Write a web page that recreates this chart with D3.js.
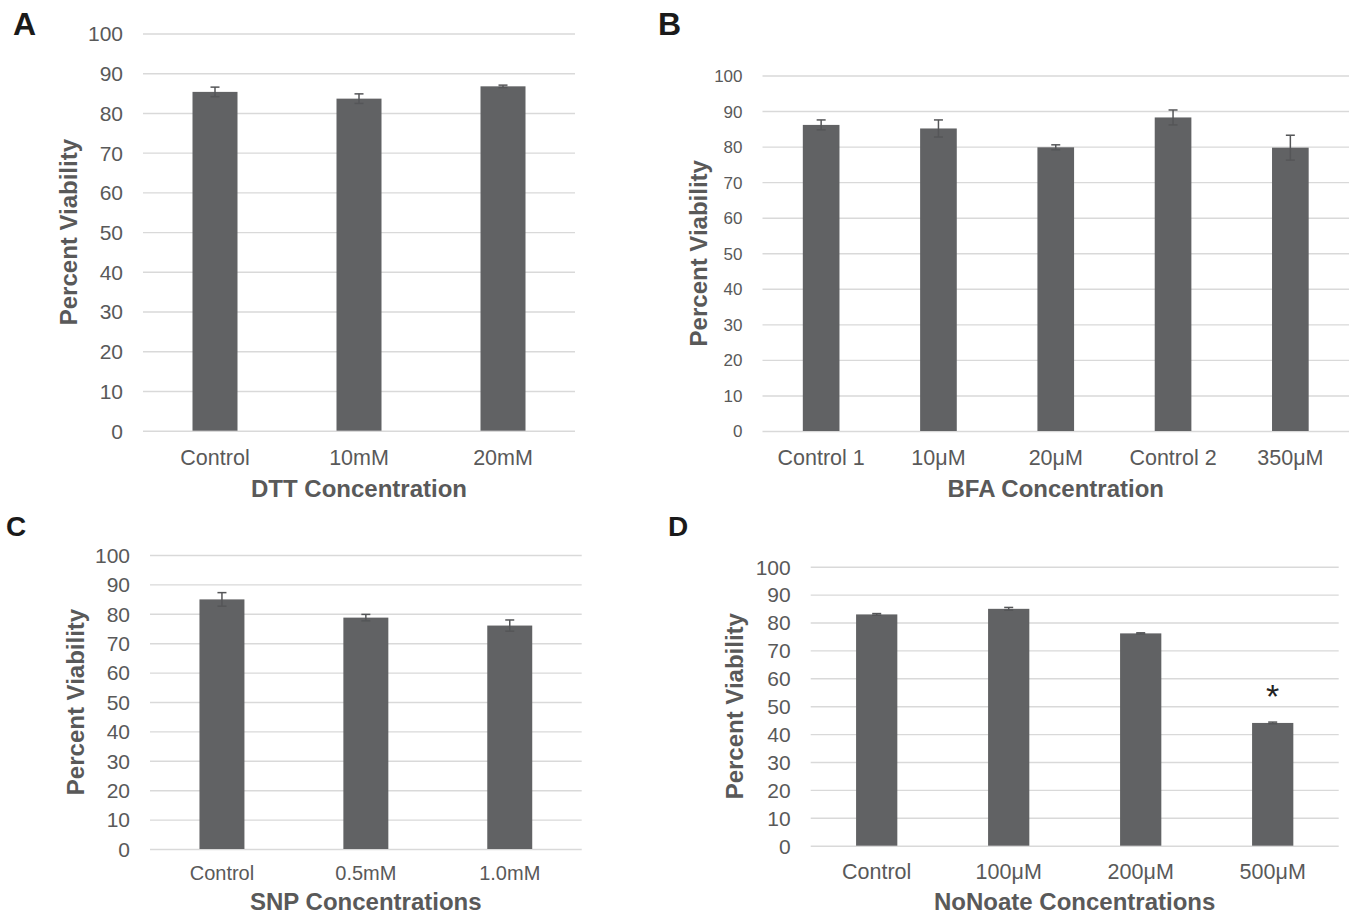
<!DOCTYPE html>
<html>
<head>
<meta charset="utf-8">
<script src="https://cdn.jsdelivr.net/npm/d3@7"></script>
<style>
  html, body { margin: 0; padding: 0; background: #fff; }
  svg { display: block; font-family: "Liberation Sans", Arial, sans-serif; }
</style>
</head>
<body>
<svg id="chart" width="1355" height="916"></svg>
<script>
// ---------- DATA ----------
const yTicks = [0, 10, 20, 30, 40, 50, 60, 70, 80, 90, 100];

const dttCategories = ["Control", "10mM", "20mM"];
const dttValues = [85.3, 83.6, 86.7];
const dttErrors = [1.2, 1.2, 0.3];

const bfaCategories = ["Control 1", "10μM", "20μM", "Control 2", "350μM"];
const bfaValues = [86.1, 85.1, 79.8, 88.2, 79.7];
const bfaErrors = [1.4, 2.4, 0.7, 2.1, 3.5];

const snpCategories = ["Control", "0.5mM", "1.0mM"];
const snpValues = [84.9, 78.7, 76.0];
const snpErrors = [2.3, 1.1, 1.9];

const nonoateCategories = ["Control", "100μM", "200μM", "500μM"];
const nonoateValues = [82.9, 84.9, 76.1, 44.0];
const nonoateErrors = [0.3, 0.5, 0.2, 0.3];
const nonoateSignificant = [false, false, false, true];

const panelLetters = ["A", "B", "C", "D"];
const xTitles = ["DTT Concentration", "BFA Concentration", "SNP Concentrations", "NoNoate Concentrations"];
const yTitle = "Percent Viability";

// ---------- LAYOUT ----------
const panels = [
  { letter: panelLetters[0], cats: dttCategories, vals: dttValues, errs: dttErrors, sig: null, xTitle: xTitles[0],
    x0: 143, x1: 575, yTop: 33.5, yBot: 430.7, tickFont: 21, labFont: 21.5, labY: 465, titleY: 497,
    yTitleX: 77, letterX: 13, letterY: 35, letterFont: 32 },
  { letter: panelLetters[1], cats: bfaCategories, vals: bfaValues, errs: bfaErrors, sig: null, xTitle: xTitles[1],
    x0: 762.5, x1: 1349, yTop: 75.5, yBot: 431, tickFont: 17, labFont: 21.5, labY: 465, titleY: 497,
    yTitleX: 707, letterX: 658, letterY: 35, letterFont: 32 },
  { letter: panelLetters[2], cats: snpCategories, vals: snpValues, errs: snpErrors, sig: null, xTitle: xTitles[2],
    x0: 150, x1: 581.7, yTop: 555, yBot: 849, tickFont: 21, labFont: 20, labY: 880, titleY: 910,
    yTitleX: 84, letterX: 6, letterY: 536, letterFont: 28 },
  { letter: panelLetters[3], cats: nonoateCategories, vals: nonoateValues, errs: nonoateErrors, sig: nonoateSignificant, xTitle: xTitles[3],
    x0: 810.7, x1: 1338.7, yTop: 566.7, yBot: 845.7, tickFont: 21, labFont: 21.5, labY: 879, titleY: 910,
    yTitleX: 743, letterX: 668, letterY: 536, letterFont: 28 }
];

const textColor = "#595959";
const barColor = "#616264";
const gridColor = "#d9d9d9";

const svg = d3.select("#chart");

panels.forEach(p => {
  const g = svg.append("g");
  const x = d3.scaleBand().domain(p.cats).range([p.x0, p.x1])
    .paddingInner(0.6875).paddingOuter(0.34375);
  const y = d3.scaleLinear().domain([0, 100]).range([p.yBot, p.yTop]);

  // gridlines + y tick labels via axis
  const yAxis = d3.axisLeft(y).tickValues(yTicks).tickSize(-(p.x1 - p.x0)).tickPadding(20);
  const ya = g.append("g").attr("transform", `translate(${p.x0},0)`).call(yAxis);
  ya.select(".domain").remove();
  ya.selectAll(".tick line").attr("stroke", gridColor).attr("stroke-width", 1.4);
  ya.selectAll(".tick text").attr("fill", textColor).attr("font-size", p.tickFont)
    .attr("font-family", "Liberation Sans, Arial, sans-serif").attr("dy", "0.35em");

  // bars
  g.selectAll("rect.bar").data(p.cats).join("rect").attr("class", "bar")
    .attr("x", d => x(d)).attr("width", x.bandwidth())
    .attr("y", (d, i) => y(p.vals[i])).attr("height", (d, i) => y(0) - y(p.vals[i]))
    .attr("fill", barColor);

  // error bars
  const capW = 9;
  const eb = g.selectAll("g.err").data(p.cats).join("g").attr("class", "err")
    .attr("stroke", "#555658").attr("stroke-width", 1.5);
  eb.append("line")
    .attr("x1", d => x(d) + x.bandwidth() / 2).attr("x2", d => x(d) + x.bandwidth() / 2)
    .attr("y1", (d, i) => y(p.vals[i] - p.errs[i])).attr("y2", (d, i) => y(p.vals[i] + p.errs[i]));
  eb.append("line")
    .attr("x1", d => x(d) + x.bandwidth() / 2 - capW / 2).attr("x2", d => x(d) + x.bandwidth() / 2 + capW / 2)
    .attr("y1", (d, i) => y(p.vals[i] + p.errs[i])).attr("y2", (d, i) => y(p.vals[i] + p.errs[i]));
  eb.append("line")
    .attr("x1", d => x(d) + x.bandwidth() / 2 - capW / 2).attr("x2", d => x(d) + x.bandwidth() / 2 + capW / 2)
    .attr("y1", (d, i) => y(p.vals[i] - p.errs[i])).attr("y2", (d, i) => y(p.vals[i] - p.errs[i]));

  // significance markers
  if (p.sig) {
    g.selectAll("text.sig").data(p.cats.filter((d, i) => p.sig[i])).join("text").attr("class", "sig")
      .attr("x", d => x(d) + x.bandwidth() / 2)
      .attr("y", d => { const i = p.cats.indexOf(d); return y(p.vals[i] + p.errs[i]) - 14; })
      .attr("text-anchor", "middle").attr("font-size", 34).attr("fill", "#222")
      .text("*");
  }

  // x category labels via axis
  const xAxis = d3.axisBottom(x).tickSize(0).tickPadding(0);
  const xa = g.append("g").attr("transform", `translate(0,${p.labY})`).call(xAxis);
  xa.select(".domain").remove();
  xa.selectAll(".tick text").attr("fill", textColor).attr("font-size", p.labFont)
    .attr("font-family", "Liberation Sans, Arial, sans-serif").attr("dy", 0);

  // x title
  g.append("text").attr("x", (p.x0 + p.x1) / 2).attr("y", p.titleY)
    .attr("text-anchor", "middle").attr("font-size", 24).attr("font-weight", "bold")
    .attr("fill", textColor).text(p.xTitle);

  // y title
  const cy = (p.yTop + p.yBot) / 2;
  g.append("text").attr("transform", `translate(${p.yTitleX},${cy}) rotate(-90)`)
    .attr("text-anchor", "middle").attr("font-size", 24).attr("font-weight", "bold")
    .attr("fill", textColor).text(yTitle);

  // panel letter
  svg.append("text").attr("x", p.letterX).attr("y", p.letterY)
    .attr("font-size", p.letterFont).attr("font-weight", "bold").attr("fill", "#1a1a1a")
    .text(p.letter);
});
</script>
</body>
</html>
